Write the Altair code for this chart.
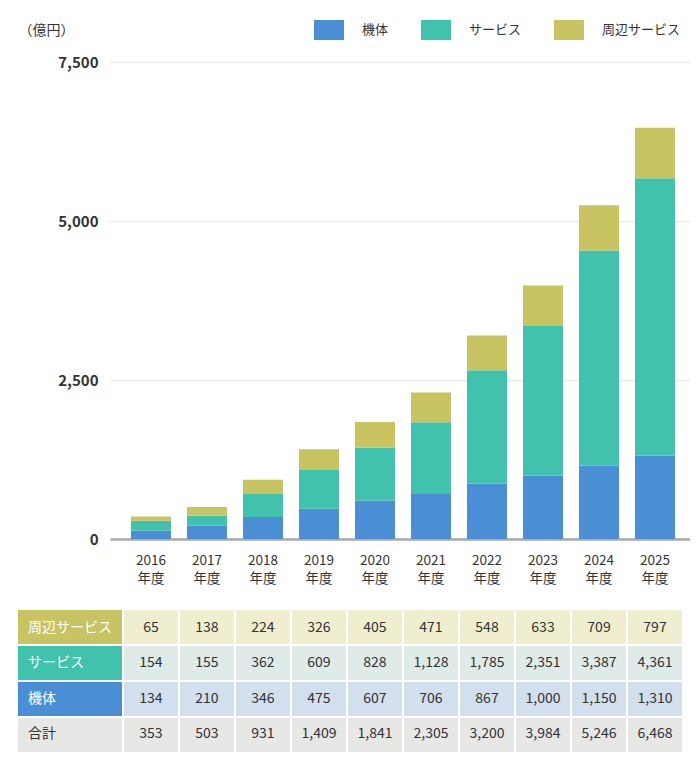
import altair as alt
import pandas as pd

years = ["2016", "2017", "2018", "2019", "2020", "2021", "2022", "2023", "2024", "2025"]
series_names = ["機体", "サービス", "周辺サービス"]
kitai = [134, 210, 346, 475, 607, 706, 867, 1000, 1150, 1310]
service = [154, 155, 362, 609, 828, 1128, 1785, 2351, 3387, 4361]
shuhen = [65, 138, 224, 326, 405, 471, 548, 633, 709, 797]
total = [353, 503, 931, 1409, 1841, 2305, 3200, 3984, 5246, 6468]
row_names = ["周辺サービス", "サービス", "機体", "合計"]
y_ticks = [0, 2500, 5000, 7500]

series_colors = ["#4A8FD5", "#40C2AC", "#C8C462"]
header_colors = ["#C8C462", "#40C2AC", "#4A8FD5", "#E7E7E6"]
cell_colors = ["#EFEFD0", "#DFEBE8", "#D2DFEC", "#E7E7E6"]

FONT = "Noto Sans CJK JP"
TXT = "#333333"

bar_rows = []
for i, yr in enumerate(years):
    for k, (name, vals) in enumerate(zip(series_names, [kitai, service, shuhen])):
        bar_rows.append({"year": yr, "series": name, "value": vals[i], "ord": k})
bars_df = pd.DataFrame(bar_rows)

table_rows = []
for name, vals in zip(row_names, [shuhen, service, kitai, total]):
    for i, yr in enumerate(years):
        table_rows.append({"year": yr, "row": name, "value": vals[i]})
table_df = pd.DataFrame(table_rows)
header_df = pd.DataFrame({"row": row_names})

x_enc = alt.X(
    "year:N", sort=years, title=None,
    scale=alt.Scale(paddingInner=2 / 56, paddingOuter=0.196, align=0.636),
    axis=alt.Axis(
        labelAngle=0, labelFontSize=13.5, labelColor=TXT, labelFont=FONT,
        labelExpr="[datum.label, '年度']", labelLineHeight=18, labelPadding=14,
        ticks=False, domainColor="#aaaaaa", domainWidth=2.5, grid=False,
    ),
)

y_row = alt.Y(
    "row:N", sort=row_names, title=None,
    scale=alt.Scale(domain=row_names, range=[548, 690], paddingInner=2 / 36, paddingOuter=0),
    axis=None,
)

bars = alt.Chart(bars_df).mark_bar(width=40).encode(
    x=x_enc,
    y=alt.Y(
        "value:Q", stack="zero",
        scale=alt.Scale(domain=[0, 7500], nice=False),
        axis=alt.Axis(
            values=y_ticks, labelExpr="format(datum.value, ',')", title="（億円）", titleAngle=0,
            titleAlign="left", titleBaseline="middle", titleX=-92, titleY=-32,
            titleFontSize=14, titleFontWeight="normal", titleColor=TXT, titleFont=FONT,
            labelFontSize=15, labelFontWeight="bold", labelColor=TXT, labelFont=FONT,
            labelPadding=12, ticks=False, domain=False,
            gridColor="#ececec", gridWidth=1.5,
        ),
    ),
    color=alt.Color(
        "series:N", sort=series_names,
        scale=alt.Scale(domain=series_names, range=series_colors),
        legend=alt.Legend(
            title=None, orient="none", legendX=209, legendY=-42, direction="horizontal",
            symbolType="M-1.5,-1H1.5V1H-1.5Z", symbolSize=400, symbolStrokeWidth=0,
            symbolOpacity=1, labelFontSize=13, labelFont=FONT, labelColor=TXT,
            labelOffset=23, columnPadding=32, padding=0,
        ),
    ),
    order=alt.Order("ord:Q", sort="ascending"),
)

header_rect = alt.Chart(header_df).mark_rect().encode(
    x=alt.value(-92), x2=alt.value(12), y=y_row,
    fill=alt.Fill("row:N", scale=alt.Scale(domain=row_names, range=header_colors), legend=None),
)

header_text = alt.Chart(header_df).mark_text(
    align="left", baseline="middle", fontSize=14, font=FONT
).encode(
    x=alt.value(-82), y=y_row, text="row:N",
    color=alt.condition(alt.datum.row == "合計", alt.value(TXT), alt.value("#ffffff")),
)

cell_rect = alt.Chart(table_df).mark_rect().encode(
    x=x_enc, y=y_row,
    color=alt.Color("row:N", scale=alt.Scale(domain=row_names, range=cell_colors), legend=None),
)

cell_text = alt.Chart(table_df).mark_text(
    align="center", baseline="middle", fontSize=14, font=FONT, color=TXT
).encode(
    x=x_enc, y=y_row, text=alt.Text("value:Q", format=","),
)

chart = alt.layer(bars, header_rect, header_text, cell_rect, cell_text).resolve_scale(
    y="independent", color="independent", fill="independent"
).properties(
    width=580, height=477,
    padding={"left": 10, "top": 12, "right": 0, "bottom": 0},
).configure(font=FONT).configure_view(stroke=None)

chart.save("out.html", embed_options={"renderer": "svg", "actions": False})
